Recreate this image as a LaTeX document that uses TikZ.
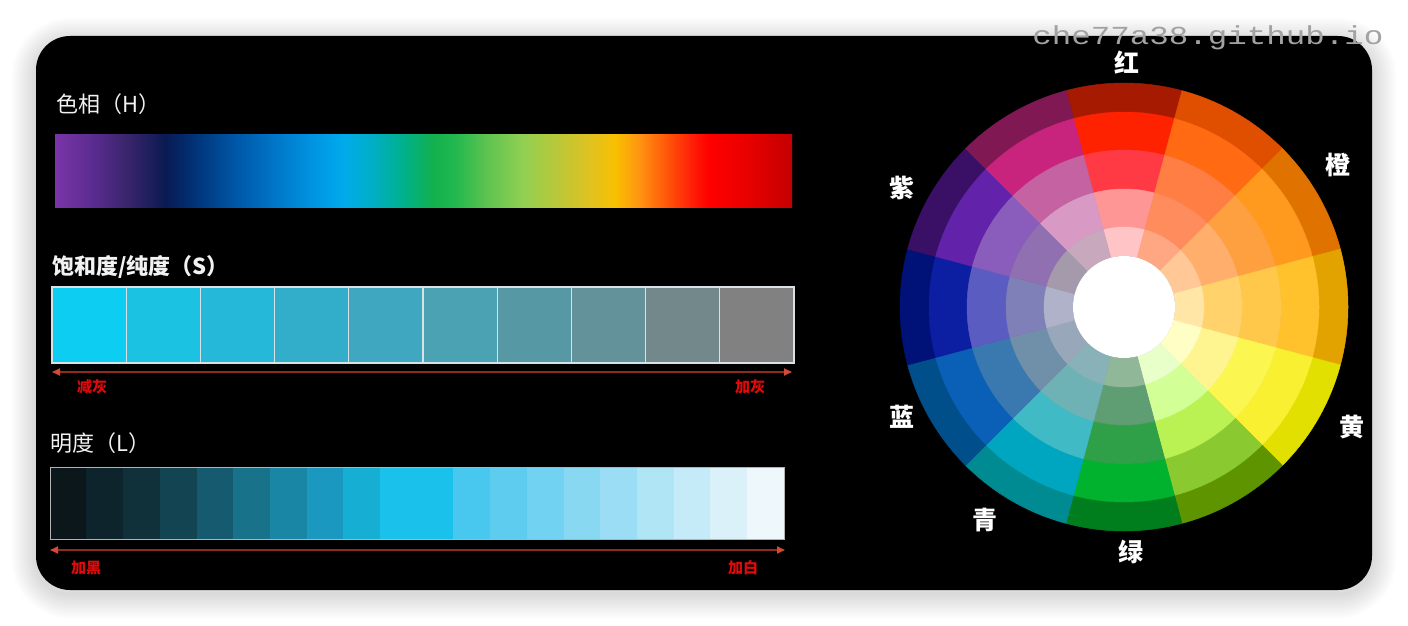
\documentclass[tikz,border=0pt]{standalone}
\usepackage{fontspec}
\usepackage{tikz}
\usetikzlibrary{arrows.meta,calc}
\usepackage{xcolor}
\newfontfamily\cjk{Noto Sans CJK SC}
\newfontfamily\wmfont[FakeStretch=1.25]{Liberation Mono}
\definecolor{titlewhite}{HTML}{F2F2F2}
\definecolor{scalered}{HTML}{E00A0A}
\definecolor{arrowline}{HTML}{8E2A1E}
\definecolor{arrowtip}{HTML}{D44A36}
\definecolor{cellborder}{HTML}{D6E2E6}
\definecolor{watermark}{HTML}{A2A2A2}

\begin{document}
\begin{tikzpicture}[
  x=1pt, y=-1pt,
  bartitle/.style={
    font=\cjk\fontsize{22}{24}\selectfont,
    text=titlewhite,
    inner sep=0pt,
    anchor=west
  },
  scalelabel/.style={
    font=\cjk\bfseries\fontsize{15}{16}\selectfont,
    text=scalered,
    inner sep=0pt
  },
  wheellabel/.style={
    font=\cjk\bfseries\fontsize{25}{26}\selectfont,
    text=white,
    inner sep=0pt
  },
  scalearrow/.style={
    {Triangle[length=8pt,width=7pt,color=arrowtip]}-{Triangle[length=8pt,width=7pt,color=arrowtip]},
    draw=arrowline,
    line width=1.8pt
  }
]
  \useasboundingbox (0,0) rectangle (1408,626);
  \fill[white] (0,0) rectangle (1408,626);

  % -------------------------------------------------------------
  % PANEL
  % -------------------------------------------------------------
  \foreach \w in {4,8,...,48}
    \draw[black, opacity=0.012, line width=\w pt, rounded corners=34pt] (36,42) rectangle (1372,594);
  \fill[black, rounded corners=34pt] (36,36) rectangle (1372,590);

  \node[font=\wmfont\fontsize{26}{28}\selectfont, text=watermark, inner sep=0pt] (wm) at (1208,38) {che77a38.github.io};

  % -------------------------------------------------------------
  % HUE (H)
  % -------------------------------------------------------------
  \node[bartitle] (huetitle) at (56,104) {色相（H）};

  \def\prevx{55}\def\prevc{7A35A8}
  \foreach \x/\hx in {92/5A2C90, 130/362468, 165/0A1A52, 195/003478, 232/0054A4,
                      272/0074C6, 310/0092E0, 342/00AAEC, 372/00AFC6, 402/00B08E,
                      432/12B04E, 455/22B84E, 485/5CC250, 522/90D052, 555/B8C83A,
                      590/E0C220, 615/F8C000, 640/FF9212, 668/FF5208, 690/FF2208,
                      708/FF0000, 748/E80000, 792/C40000} {
    \edef\tmp{\noexpand\definecolor{segL}{HTML}{\prevc}\noexpand\definecolor{segR}{HTML}{\hx}}\tmp
    \shade[left color=segL, right color=segR] (\prevx,134) rectangle ({min(\x+0.6,792)},207);
    \xdef\prevx{\x}\xdef\prevc{\hx}
  }

  % -------------------------------------------------------------
  % SATURATION (S)
  % -------------------------------------------------------------
  \node[bartitle, font=\cjk\bfseries\fontsize{22}{24}\selectfont] (sattitle) at (52,267) {饱和度/纯度（S）};

  \foreach \hx [count=\i] in {0DCEF2,1CC2E2,26B8D8,33AECA,3FA8C0,4AA2B2,5698A4,63929A,72888A,818181} {
    \edef\tmp{\noexpand\definecolor{cellc}{HTML}{\hx}}\tmp
    \fill[cellc] ({52+(\i-1)*74.2},287) rectangle ({52+\i*74.2},363);
  }
  \foreach \i in {1,...,9}
    \draw[cellborder, line width=1.3pt] ({52+\i*74.2},287) -- ({52+\i*74.2},363);
  \draw[cellborder, line width=1.6pt] (52,287) rectangle (794,363);

  \coordinate (satL) at (52,372);
  \coordinate (satR) at (792,372);
  \draw[scalearrow] (satL) -- (satR);
  \node[scalelabel] (lessgray) at (92,387) {减灰};
  \node[scalelabel] (moregray) at (750,387) {加灰};

  % -------------------------------------------------------------
  % LIGHTNESS (L)
  % -------------------------------------------------------------
  \node[bartitle] (lumtitle) at (50,443) {明度（L）};

  \foreach \hx [count=\i] in {0B171B,0D242C,10303A,124452,155A6E,17728A,1A86A6,1A98C0,17AED4,19C1EB,
                              19C1EB,48C8EE,5ECCEE,72D2F1,88D8F2,9ADDF4,B0E5F6,C6EBF8,DAF1FA,EEF7FC} {
    \edef\tmp{\noexpand\definecolor{cellc}{HTML}{\hx}}\tmp
    \fill[cellc] ({50+(\i-1)*36.7-0.3},467) rectangle ({50+\i*36.7},539);
  }
  \draw[gray!60, line width=0.6pt] (50,467) rectangle (784,539);

  \coordinate (lumL) at (50,550);
  \coordinate (lumR) at (785,550);
  \draw[scalearrow] (lumL) -- (lumR);
  \node[scalelabel] (moreblack) at (86,568) {加黑};
  \node[scalelabel] (morewhite) at (743,568) {加白};

  % -------------------------------------------------------------
  % COLOUR WHEEL
  % -------------------------------------------------------------
  \begin{scope}[shift={(1124,307)}, yscale=-1]
    \foreach \a/\cols in {
        90/{A51A00,FF2200,FF3A44,FF9696,FFC4C6},
        60/{E04E00,FF6A12,FF7E44,FF8C5C,FFA682},
        30/{E07200,FF9A1E,FFA040,FFAE6C,FFC896},
        0/{E2A200,FFC22C,FFC84A,FFD26C,FFE6A6},
        -30/{E2E000,F8F030,FCF650,FFF590,FFFEC4},
        -60/{5E9400,8ACA30,BAF254,D2FF96,E8FFCA},
        -90/{007E1E,00B22E,30A048,5E9E72,90B898},
        -120/{008A92,00A6C0,40BAC4,6EB2B6,88B2B8},
        -150/{004E8A,0A60B6,3A78B0,7090AA,98A8BA},
        180/{001278,0C1EA2,5A5CC2,8080B8,B0B2CA},
        150/{3A1066,6222AA,8A5CBC,9070B0,A49AAC},
        120/{801854,C8247E,C462A2,D89AC4,C8A8BC}} {
      \foreach \hx [count=\j] in \cols {
        \pgfmathsetmacro\ro{{224,195,157,118,80}[\j-1]}
        \pgfmathsetmacro\ri{{195,157,118,80,51}[\j-1]}
        \edef\tmp{\noexpand\definecolor{seg}{HTML}{\hx}}\tmp
        \fill[seg, draw=seg, line width=0.5pt] (\a-15:\ri) arc[start angle=\a-15, end angle=\a+15, radius=\ri]
          -- (\a+15:\ro) arc[start angle=\a+15, end angle=\a-15, radius=\ro] -- cycle;
      }
    }
    \fill[white] (0,0) circle[radius=51];
  \end{scope}

  \node[wheellabel] (lblred) at (1127,63) {红};
  \node[wheellabel] (lblorange) at (1338,165) {橙};
  \node[wheellabel] (lblyellow) at (1352,427) {黄};
  \node[wheellabel] (lblgreen) at (1131,552) {绿};
  \node[wheellabel] (lblcyan) at (985,520) {青};
  \node[wheellabel] (lblblue) at (902,417) {蓝};
  \node[wheellabel] (lblpurple) at (902,188) {紫};

\end{tikzpicture}
\end{document}
